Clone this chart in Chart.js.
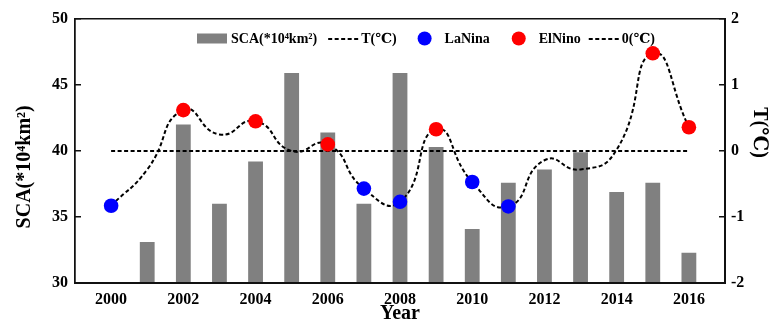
<!DOCTYPE html>
<html>
<head>
<meta charset="utf-8">
<script src="https://cdn.jsdelivr.net/npm/chart.js@4.4.0/dist/chart.umd.min.js"></script>
<style>
  html, body { margin: 0; padding: 0; background: #fff; }
  #wrap { position: relative; width: 773px; height: 327px; }
  #frame { position: absolute; box-sizing: border-box; border: 1.5px solid #111; pointer-events: none; }
  .tk { position: absolute; height: 1.5px; width: 6px; background: #111; }
</style>
</head>
<body>
<div id="wrap"><canvas id="c" width="773" height="327"></canvas><div id="frame"></div></div>
<script>
// Snow cover area (×10^4 km²) and temperature anomaly (℃) by year
const YEARS = [2000, 2001, 2002, 2003, 2004, 2005, 2006, 2007, 2008, 2009, 2010, 2011, 2012, 2013, 2014, 2015, 2016];
const SCA   = [null, 33.1, 42.0, 36.0, 39.2, 45.9, 41.4, 36.0, 45.9, 40.3, 34.1, 37.6, 38.6, 39.9, 36.9, 37.6, 32.3];
const TEMP  = [-0.83, -0.28, 0.62, 0.25, 0.45, 0.00, 0.10, -0.57, -0.77, 0.33, -0.47, -0.84, -0.14, -0.28, 0.02, 1.48, 0.36];
const LANINA_YEARS = [2000, 2007, 2008, 2010, 2011];
const ELNINO_YEARS = [2002, 2004, 2006, 2009, 2015, 2016];
const ZERO_LINE = [0, 0];

const X_TICKS   = [2000, 2002, 2004, 2006, 2008, 2010, 2012, 2014, 2016];
const SCA_TICKS = [30, 35, 40, 45, 50];
const T_TICKS   = [-2, -1, 0, 1, 2];

const SERIF = '"Liberation Serif", "Times New Roman", "DejaVu Serif", serif';
const BAR_GREY = '#808080';
const FRAME_COLOR = '#111';

const tempAt = yr => TEMP[YEARS.indexOf(yr)];

const barData  = YEARS.map((yr, i) => ({ x: yr, y: SCA[i] })).filter(p => p.y !== null);
const tempData = YEARS.map((yr, i) => ({ x: yr, y: TEMP[i] }));
const zeroData = [{ x: YEARS[0], y: ZERO_LINE[0] }, { x: YEARS[YEARS.length - 1], y: ZERO_LINE[1] }];
const laninaData = LANINA_YEARS.map(yr => ({ x: yr, y: tempAt(yr) }));
const elninoData = ELNINO_YEARS.map(yr => ({ x: yr, y: tempAt(yr) }));

const fixedTicks = list => scale => { scale.ticks = list.map(v => ({ value: v })); };
const tickFont = { family: SERIF, size: 16, weight: 'bold' };

// Plot frame, inward tick marks, rotated axis titles and the legend row
const decorations = {
  id: 'decorations',
  afterDraw(chart) {
    const ctx = chart.ctx;
    const a = chart.chartArea;
    const L = Math.round(a.left), R = Math.round(a.right), T = Math.round(a.top), B = Math.round(a.bottom);
    ctx.save();

    ctx.fillStyle = FRAME_COLOR;
    ctx.fillRect(L - 1, T - 1, R - L + 2, 1.5);
    ctx.fillRect(L - 1, B - 1, R - L + 2, 1.5);
    ctx.fillRect(L - 1, T - 1, 1.5, B - T + 2);
    ctx.fillRect(R - 1, T - 1, 1.5, B - T + 2);
    SCA_TICKS.forEach(v => {
      const y = Math.round(chart.scales.y.getPixelForValue(v));
      ctx.fillRect(L, y - 1, 6, 1.5);
    });
    T_TICKS.forEach(v => {
      const y = Math.round(chart.scales.y2.getPixelForValue(v));
      ctx.fillRect(R - 6, y - 1, 6, 1.5);
    });

    // axis titles
    ctx.fillStyle = '#000';
    ctx.font = 'bold 20px ' + SERIF;
    ctx.textAlign = 'center';
    ctx.textBaseline = 'middle';
    ctx.save();
    ctx.translate(25, T + (B - T) * 0.56);
    ctx.rotate(-Math.PI / 2);
    ctx.fillText('SCA(*10\u2074km\u00B2)', 0, 0);
    ctx.restore();
    ctx.save();
    ctx.translate(759, T + (B - T) * 0.43);
    ctx.rotate(Math.PI / 2);
    ctx.fillText('T(\u2103)', 0, 0);
    ctx.restore();

    // legend
    ctx.font = 'bold 14px ' + SERIF;
    ctx.textAlign = 'left';
    const ly = T + 19.5;
    let x = 197;
    const text = (s, gapAfter) => { ctx.fillStyle = '#000'; ctx.fillText(s, x, ly + 1); x += ctx.measureText(s).width + gapAfter; };
    const dash = (gapAfter) => {
      ctx.strokeStyle = '#000'; ctx.lineWidth = 2; ctx.setLineDash([4, 2.5]);
      ctx.beginPath(); ctx.moveTo(x, ly + 0.5); ctx.lineTo(x + 32, ly + 0.5); ctx.stroke();
      ctx.setLineDash([]); x += 32 + gapAfter;
    };
    const dot = (color, gapAfter) => {
      ctx.fillStyle = color; ctx.beginPath(); ctx.arc(x + 7, ly, 7, 0, Math.PI * 2); ctx.fill();
      x += 14 + gapAfter;
    };
    ctx.fillStyle = BAR_GREY;
    ctx.fillRect(x, ly - 5, 30, 10);
    x += 34;
    text('SCA(*10\u2074km\u00B2)', 11);
    dash(1);
    text('T(\u2103)', 21);
    dot('#0000ff', 13);
    text('LaNina', 22);
    dot('#ff0000', 13);
    text('ElNino', 8);
    dash(1);
    text('0(\u2103)', 0);
    ctx.restore();
  }
};

const chart = new Chart(document.getElementById('c'), {
  type: 'bar',
  data: {
    datasets: [
      {
        type: 'bar', label: 'SCA(*10\u2074km\u00B2)', data: barData,
        xAxisID: 'x', yAxisID: 'y',
        backgroundColor: BAR_GREY, borderWidth: 0,
        barPercentage: 0.41, categoryPercentage: 1.0, order: 4
      },
      {
        type: 'line', label: '0(\u2103)', data: zeroData,
        xAxisID: 'x', yAxisID: 'y2',
        borderColor: '#000', borderWidth: 2, borderDash: [4, 2.5],
        pointRadius: 0, fill: false, order: 3
      },
      {
        type: 'line', label: 'T(\u2103)', data: tempData,
        xAxisID: 'x', yAxisID: 'y2',
        borderColor: '#000', borderWidth: 2, borderDash: [4, 2.5],
        pointRadius: 0, tension: 0.55, fill: false, order: 2
      },
      {
        type: 'line', label: 'LaNina', data: laninaData,
        xAxisID: 'x', yAxisID: 'y2', showLine: false,
        pointRadius: 7.3, pointBackgroundColor: '#0000ff', pointBorderWidth: 0,
        order: 1
      },
      {
        type: 'line', label: 'ElNino', data: elninoData,
        xAxisID: 'x', yAxisID: 'y2', showLine: false,
        pointRadius: 7.3, pointBackgroundColor: '#ff0000', pointBorderWidth: 0,
        order: 1
      }
    ]
  },
  options: {
    responsive: false,
    animation: false,
    devicePixelRatio: 1,
    layout: { padding: { top: 19, left: 0, right: 0, bottom: 0 } },
    plugins: { legend: { display: false }, tooltip: { enabled: false } },
    scales: {
      x: {
        type: 'linear', position: 'bottom', min: 1999, max: 2017, offset: false,
        afterBuildTicks: fixedTicks(X_TICKS),
        afterFit: s => { s.height = 44; },
        grid: { display: false, drawTicks: false, offset: false },
        border: { display: true, color: FRAME_COLOR, width: 1.5 },
        ticks: { color: '#000', padding: 7, maxRotation: 0, font: tickFont, callback: v => String(v) },
        title: { display: true, text: 'Year', color: '#000', padding: { top: 0, bottom: 1 }, font: { family: SERIF, size: 20, weight: 'bold' } }
      },
      y: {
        type: 'linear', position: 'left', min: 30, max: 50,
        afterBuildTicks: fixedTicks(SCA_TICKS),
        afterFit: s => { s.width = 75; },
        grid: { display: false, drawTicks: false },
        border: { display: true, color: FRAME_COLOR, width: 1.5 },
        ticks: { color: '#000', padding: 7, font: tickFont }
      },
      y2: {
        type: 'linear', position: 'right', min: -2, max: 2,
        afterBuildTicks: fixedTicks(T_TICKS),
        afterFit: s => { s.width = 48; },
        grid: { display: false, drawTicks: false },
        border: { display: true, color: FRAME_COLOR, width: 1.5 },
        ticks: { color: '#000', padding: 6, font: tickFont }
      }
    }
  },
  plugins: [decorations]
});

// Page-level frame placed on the plot area
(function placeFrame() {
  const a = chart.chartArea;
  const f = document.getElementById('frame');
  f.style.left = (a.left - 0.75) + 'px';
  f.style.top = (a.top - 0.75) + 'px';
  f.style.width = (a.right - a.left + 1.5) + 'px';
  f.style.height = (a.bottom - a.top + 1.5) + 'px';
})();
</script>
</body>
</html>
